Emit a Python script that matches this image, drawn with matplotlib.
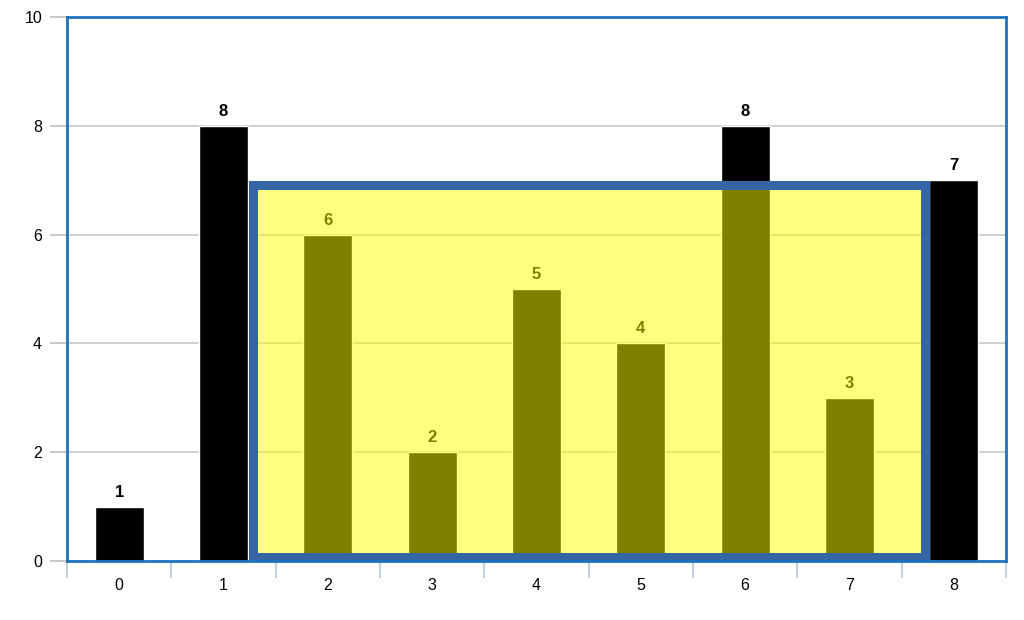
import matplotlib
matplotlib.use("Agg")
import matplotlib.pyplot as plt
from matplotlib.patches import Rectangle

categories = [0, 1, 2, 3, 4, 5, 6, 7, 8]
heights = [1, 8, 6, 2, 5, 4, 8, 3, 7]
y_ticks = [0, 2, 4, 6, 8, 10]
container_left = 1
container_right = 8
container_height = 7

plt.rcParams['font.family'] = ['Liberation Sans', 'DejaVu Sans']

fig = plt.figure(figsize=(10.24, 6.2), dpi=100)
ax = fig.add_axes([67/1024, (620-561)/620, (1006-67)/1024, (561-17)/620])

bar_w = 0.47
ax.bar(categories, heights, width=bar_w, color='black', edgecolor='white', linewidth=1, zorder=2)
for x, h in zip(categories, heights):
    ax.annotate(str(h), (x, h), xytext=(0, 5), textcoords='offset points',
                ha='center', va='bottom', fontsize=12, fontweight='bold', color='black', zorder=3)

ax.set_xlim(-0.5, 8.5)
ax.set_ylim(0, 10)

# container overlay
x0 = categories[container_left] + bar_w / 2
x1 = categories[container_right] - bar_w / 2
lw_px = 9
fig.canvas.draw()
bbox = ax.get_window_extent()
px_per_x = bbox.width / 9.0
px_per_y = bbox.height / 10
fx = 1.5 / px_per_x
fy = 1.5 / px_per_y
ax.add_patch(Rectangle((x0 + fx, 0), x1 - x0 - 2 * fx, container_height - fy,
                       facecolor=(1, 1, 0, 0.5), edgecolor='none', zorder=4))
dx = (lw_px / 2) / px_per_x
dy = (lw_px / 2) / px_per_y
ax.add_patch(Rectangle((x0 + dx, dy), x1 - x0 - 2 * dx, container_height - 2 * dy,
                       facecolor='none', edgecolor='#3465a4', linewidth=lw_px * 72 / 100,
                       joinstyle='miter', zorder=5))

# grid
ax.set_yticks(y_ticks)
ax.yaxis.grid(True, color='#c8c8c8', linewidth=1.2, zorder=1)
ax.set_axisbelow(True)
ax.tick_params(axis='y', length=12, color='#c0c0c0', width=1.2, labelsize=11.5, pad=6)

# x ticks at boundaries, labels at centres
ax.set_xticks([c + 0.5 for c in [-1] + categories])
ax.set_xticklabels([])
ax.set_xticks(categories, minor=True)
ax.set_xticklabels([str(c) for c in categories], minor=True)
ax.tick_params(axis='x', which='major', length=12, color='#b8c8d8', width=1.2)
ax.tick_params(axis='x', which='minor', length=0, labelsize=11.5, pad=12)

for s in ax.spines.values():
    s.set_color('#1f72bd')
    s.set_linewidth(2)
    s.set_zorder(6)

fig.savefig('out.png', dpi=100)
